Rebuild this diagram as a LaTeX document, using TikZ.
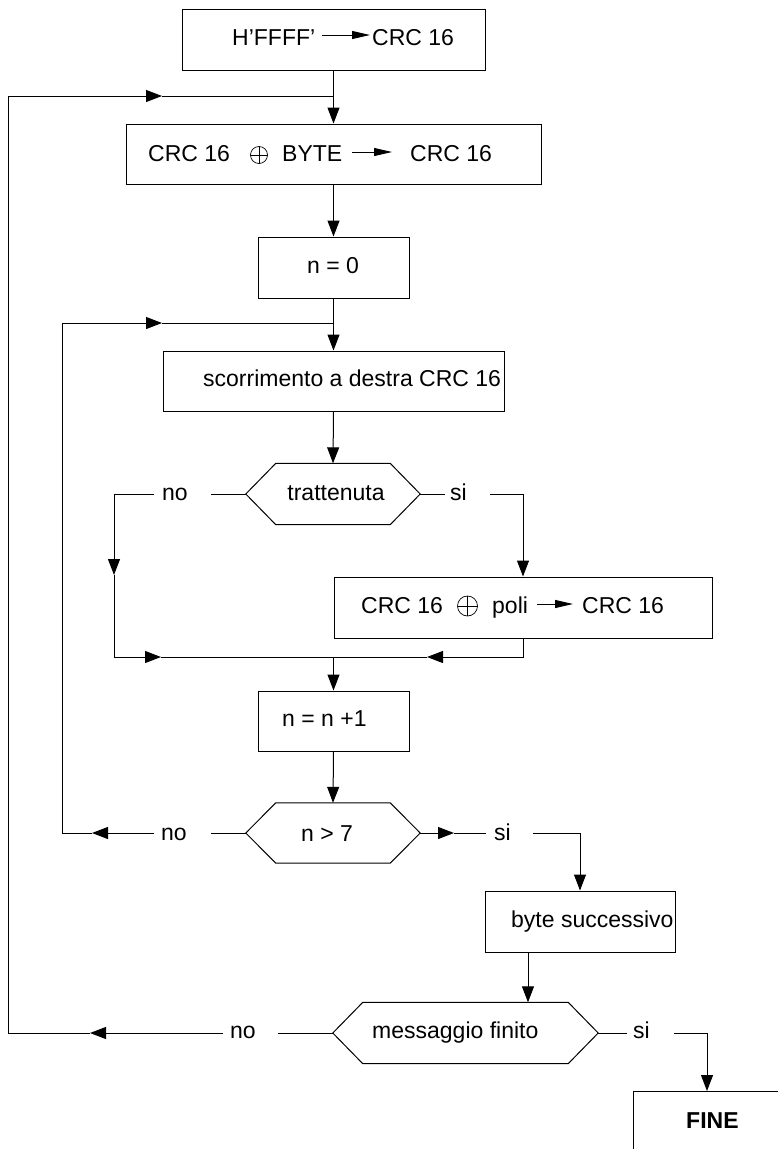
\documentclass[tikz,border=0pt]{standalone}
\usepackage{fontspec}
\setmainfont{Liberation Sans}
\usetikzlibrary{arrows.meta}
\newcommand{\hexagonpath}[2]{\draw[line] (#1.west) -- ([xshift=#2]#1.north west) -- ([xshift=-#2]#1.north east) -- (#1.east) -- ([xshift=-#2]#1.south east) -- ([xshift=#2]#1.south west) -- cycle;}
\tikzset{
  box/.style={draw, line width=1pt, inner sep=0pt},
  hexnode/.style={inner sep=0pt},
  txt/.style={inner sep=0pt, anchor=base west, font=\fontsize{23}{27}\selectfont},
  ctxt/.style={inner sep=0pt, anchor=base, font=\fontsize{23}{27}\selectfont},
  line/.style={line width=1pt},
  arr/.style={line width=1pt, -{Triangle[length=16pt,width=12pt]}},
  tarr/.style={line width=0.9pt, -{Triangle[length=18pt,width=8pt]}},
  oplus/.style={circle, draw, line width=0.7pt, inner sep=0pt, minimum size=18pt,
    path picture={\draw[line width=0.7pt] (path picture bounding box.north) -- (path picture bounding box.south)
      (path picture bounding box.west) -- (path picture bounding box.east);}}
}
\begin{document}
\begin{tikzpicture}[x=1pt,y=-1pt]
\useasboundingbox (0,0) rectangle (778,1149);
\clip (0,0) rectangle (778,1149);
\fill[white] (0,0) rectangle (778,1149);

% box 1
\node[box, minimum width=303pt, minimum height=61pt] (b1) at (333.5,39.5) {};
\node[txt] (t1a) at (232,45) {H’FFFF’};
\node[txt] (t1b) at (372,45) {CRC 16};
\draw[tarr] ([xshift=7pt,yshift=10pt]t1a.base east) -- ([xshift=-2pt,yshift=10pt]t1b.base west);

% box 2
\node[box, minimum width=415pt, minimum height=60pt] (b2) at (333.5,154) {};
\node[txt] (t2a) at (148,161) {CRC 16};
\node[oplus, minimum size=17pt] (o2) at (259,155) {};
\node[txt] (t2b) at (282,161) {BYTE};
\node[txt] (t2c) at (410,161) {CRC 16};
\draw[tarr] ([xshift=10pt,yshift=9pt]t2b.base east) -- ([xshift=-18pt,yshift=9pt]t2c.base west);

% n = 0
\node[box, minimum width=151pt, minimum height=61pt] (n0) at (333.5,267.5) {};
\node[ctxt] (tn0) at (333,273) {n = 0};

% scorrimento
\node[box, minimum width=341pt, minimum height=60pt] (scr) at (333.5,381) {};
\node[txt] (tscr) at (203,386) {scorrimento a destra CRC 16};

% trattenuta hexagon
\node[hexnode, minimum width=174pt, minimum height=61pt] (tr) at (333,494) {};
\hexagonpath{tr}{30pt}
\node[ctxt] (ttr) at (336,500) {trattenuta};

% poli box
\node[box, minimum width=378pt, minimum height=61pt] (poli) at (523,607.5) {};
\node[txt] (t3a) at (361,613) {CRC 16};
\node[oplus, minimum size=20pt] (o3) at (467.5,606) {};
\node[txt] (t3b) at (492,613) {poli};
\node[txt] (t3c) at (582,613) {CRC 16};
\draw[tarr] ([xshift=9pt,yshift=9pt]t3b.base east) -- ([xshift=-9pt,yshift=9pt]t3c.base west);

% n = n +1
\node[box, minimum width=151pt, minimum height=60pt] (n1) at (333.5,721) {};
\node[txt] (tn1) at (282,726) {n = n +1};

% n > 7 hexagon
\node[hexnode, minimum width=174pt, minimum height=60pt] (gt) at (333,833) {};
\hexagonpath{gt}{30pt}
\node[ctxt] (tgt) at (327,841) {n > 7};

% byte successivo
\node[box, minimum width=190pt, minimum height=61pt] (byte) at (580,921.5) {};
\node[txt] (tbyte) at (511,927) {byte successivo};

% messaggio finito hexagon
\node[hexnode, minimum width=265pt, minimum height=61pt] (mf) at (465.5,1033) {};
\hexagonpath{mf}{30pt}
\node[txt] (tmf) at (372,1038) {messaggio finito};

% FINE
\node[box, minimum width=200pt, minimum height=120pt, anchor=north west] (fine) at (633,1091) {};
\node[txt, font=\fontsize{23}{27}\selectfont\bfseries] (tfine) at (686,1128) {FINE};

% coordinates
\coordinate (j1) at (333.5,96);
\coordinate (j2) at (333.5,323);
\coordinate (jm) at (333.5,657);
\coordinate (tn1c) at (211,494);
\coordinate (tn2c) at (154,494);
\coordinate (tn3c) at (114,575);
\coordinate (m1) at (114,657);
\coordinate (m2) at (161,657);
\coordinate (m3) at (427,657);
\coordinate (ts1) at (445,494);
\coordinate (ts2) at (490,494);
\coordinate (gn1) at (211,833);
\coordinate (gn2) at (154,833);
\coordinate (gn3) at (92,833);
\coordinate (gc1) at (62,833);
\coordinate (gc2) at (62,323);
\coordinate (gn4) at (162,323);
\coordinate (gs1) at (454,833);
\coordinate (gs2) at (486,833);
\coordinate (gs3) at (533,833);
\coordinate (bo) at (528,952);
\coordinate (mn1) at (278,1033);
\coordinate (mn2) at (223,1033);
\coordinate (mn3) at (90,1033);
\coordinate (mc1) at (8,1033);
\coordinate (mc2) at (8,96);
\coordinate (mn4) at (162,96);
\coordinate (ms1) at (627,1033);
\coordinate (ms2) at (674,1033);
\coordinate (fa) at (707,1091);

% main flow
\draw[arr] (b1.south) -- (b2.north);
\draw[arr] (b2.south) -- (n0.north);
\draw[arr] (n0.south) -- (scr.north);
\draw[arr] (scr.south) -- (tr.north);

% trattenuta no
\draw[line] (tr.west) -- (tn1c);
\node[txt] (lno1) at (162,500) {no};
\draw[arr] (tn2c) -| (tn3c);
\draw[arr] (tn3c) -- (m1) -- (m2);
\draw[line] (m2) -- (jm);

% trattenuta si
\draw[line] (tr.east) -- (ts1);
\node[txt] (lsi1) at (450,500) {si};
\draw[arr] (ts2) -| (poli.north);
\draw[arr] (poli.south) |- (m3);
\draw[line] (m3) -- (jm);

\draw[arr] (jm) -- (n1.north);
\draw[arr] (n1.south) -- (gt.north);

% n > 7 no
\draw[line] (gt.west) -- (gn1);
\node[txt] (lno2) at (161,840) {no};
\draw[arr] (gn2) -- (gn3);
\draw[arr] (gn3) -- (gc1) -- (gc2) -- (gn4);
\draw[line] (gn4) -- (j2);

% n > 7 si
\draw[arr] (gt.east) -- (gs1);
\draw[line] (gs1) -- (gs2);
\node[txt] (lsi2) at (494,840) {si};
\draw[arr] (gs3) -| (byte.north);

\draw[arr] (bo) -- (bo |- mf.north);

% messaggio no
\draw[line] (mf.west) -- (mn1);
\node[txt] (lno3) at (230,1038) {no};
\draw[arr] (mn2) -- (mn3);
\draw[arr] (mn3) -- (mc1) -- (mc2) -- (mn4);
\draw[line] (mn4) -- (j1);

% messaggio si
\draw[line] (mf.east) -- (ms1);
\node[txt] (lsi3) at (633,1038) {si};
\draw[arr] (ms2) -| (fa);
\end{tikzpicture}
\end{document}
